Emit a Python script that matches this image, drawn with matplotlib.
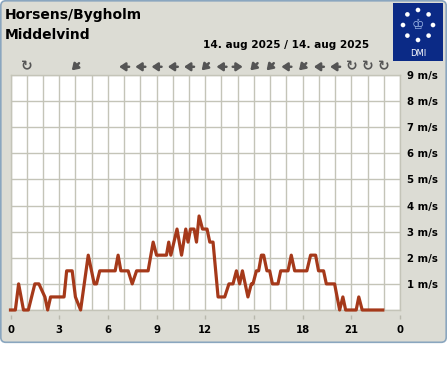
import matplotlib
matplotlib.use("Agg")
import matplotlib.pyplot as plt
from matplotlib.patches import FancyBboxPatch, Rectangle, Circle
from matplotlib.transforms import offset_copy
import numpy as np

# wind speed breakpoints (hour of day, m/s)
hours = [0.0, 0.3, 0.5, 0.8, 1.1, 1.5, 1.75, 2.12, 2.29, 2.47, 3.3, 3.46, 3.8, 4.0,
         4.32, 4.79, 5.16, 5.3, 5.5, 6.45, 6.63, 6.8, 7.25, 7.5, 7.77, 8.48, 8.79,
         9.0, 9.61, 9.75, 9.88, 10.26, 10.54, 10.8, 10.94, 11.09, 11.31, 11.46,
         11.62, 11.83, 12.11, 12.28, 12.48, 12.79, 13.2, 13.46, 13.71, 13.92, 14.12,
         14.29, 14.63, 14.84, 14.94, 15.15, 15.29, 15.46, 15.6, 15.8, 15.97, 16.14,
         16.48, 16.65, 17.1, 17.3, 17.51, 18.26, 18.49, 18.8, 18.98, 19.29, 19.46,
         19.97, 20.28, 20.48, 20.65, 21.3, 21.46, 21.67, 22.94]
speed = [0, 0, 1.0, 0, 0, 1.0, 1.0, 0.5, 0, 0.5, 0.5, 1.5, 1.5, 0.5,
         0, 2.1, 1.0, 1.0, 1.5, 1.5, 2.1, 1.5, 1.5, 1.0, 1.5, 1.5, 2.6,
         2.1, 2.1, 2.6, 2.1, 3.1, 2.1, 3.1, 2.6, 3.1, 3.1, 2.6,
         3.6, 3.1, 3.1, 2.6, 2.6, 0.5, 0.5, 1.0, 1.0, 1.5, 1.0,
         1.5, 0.5, 1.0, 1.0, 1.5, 1.5, 2.1, 2.1, 1.5, 1.5, 1.0,
         1.0, 1.5, 1.5, 2.1, 1.5, 1.5, 2.1, 2.1, 1.5, 1.5, 1.0,
         1.0, 0, 0.5, 0, 0, 0.5, 0, 0]

# wind direction per hour ("calm" = no direction)
dir_hours = [1, 4, 7, 8, 9, 10, 11, 12, 13, 14, 15, 16, 17, 18, 19, 20, 21, 22, 23]
dir_names = ["calm", "SW", "W", "W", "W", "W", "W", "SW", "W", "E", "SW", "SW", "W",
             "SW", "W", "W", "calm", "calm", "calm"]
dir_vec = {"W": (-1, 0), "E": (1, 0), "SW": (-0.72, -0.72)}

x_ticks = [0, 3, 6, 9, 12, 15, 18, 21, 24]
x_labels = ["0", "3", "6", "9", "12", "15", "18", "21", "0"]
y_ticks = [1, 2, 3, 4, 5, 6, 7, 8, 9]
y_labels = [f"{v} m/s" for v in y_ticks]

W, H = 447, 370
fig = plt.figure(figsize=(W / 100, H / 100), dpi=100)
fig.patch.set_facecolor("white")

# overlay in pixel coordinates for the frame, logo and header texts
bg = fig.add_axes([0, 0, 1, 1])
bg.set_xlim(0, W)
bg.set_ylim(H, 0)
bg.axis("off")
bg.add_patch(FancyBboxPatch((0.8, 0.8), W - 1.6, 341.5, boxstyle="round,pad=0,rounding_size=5",
                            fc="#dcdcd4", ec="#8aa6bf", lw=1.2))
bg.add_patch(Rectangle((393, 3), 50, 58, fc="#0b2a86", ec="none"))
for a in np.linspace(0, 2 * np.pi, 9)[:-1]:
    bg.add_patch(Circle((418 + 15 * np.cos(a), 25 + 15 * np.sin(a)), 2.3, fc="white", ec="none"))
bg.text(418, 25, "♔", color="#9fb8e6", fontsize=10, ha="center", va="center")
bg.text(418, 53, "DMI", color="white", fontsize=6, ha="center", va="center")

bg.text(5, 15, "Horsens/Bygholm", fontsize=10, fontweight="bold", ha="left", va="center", color="black")
bg.text(5, 35, "Middelvind", fontsize=10, fontweight="bold", ha="left", va="center", color="black")
bg.text(369, 45, "14. aug 2025 / 14. aug 2025", fontsize=7.6, fontweight="bold",
        ha="right", va="center", color="black")

ax = fig.add_axes([10.5 / W, (H - 310) / H, 389.5 / W, 235 / H])
ax.set_facecolor("white")
ax.set_xlim(0, 24)
ax.set_ylim(0, 9)
ax.vlines(np.arange(0, 25, 1), 0, 9, color="#c4c4b8", lw=1.0, zorder=1)
ax.hlines(np.arange(0, 10, 1), 0, 24, color="#c4c4b8", lw=1.0, zorder=1)
for s in ax.spines.values():
    s.set_color("#c4c4b8")
    s.set_linewidth(1.0)

ax.plot(hours, speed, color="#a5391a", lw=2.3, solid_joinstyle="round", clip_on=False, zorder=3)

ax.set_xticks(x_ticks)
ax.set_xticklabels(x_labels, fontsize=7.3, fontweight="bold")
ax.tick_params(axis="x", which="both", length=0, pad=11)
ax.vlines(x_ticks, -0.021, -0.038, transform=ax.get_xaxis_transform(), color="#b8b8ac",
          lw=1.0, clip_on=False)

ax.yaxis.tick_right()
ax.set_yticks(y_ticks)
ax.set_yticklabels(y_labels, fontsize=7.3, fontweight="bold")
ax.tick_params(axis="y", which="both", length=0, pad=5)

# wind direction row above the plot
arrow_col = "#555555"
for h, name in zip(dir_hours, dir_names):
    if name == "calm":
        ax.text(h, 1.035, "↻", transform=ax.get_xaxis_transform(), ha="center", va="center",
                fontsize=10, fontweight="bold", color=arrow_col)
        continue
    dx, dy = dir_vec[name]
    head = offset_copy(ax.get_xaxis_transform(), fig, x=dx * 3.6, y=dy * 3.6, units="points")
    tail = offset_copy(ax.get_xaxis_transform(), fig, x=-dx * 3.6, y=-dy * 3.6, units="points")
    ax.annotate("", xy=(h, 1.035), xycoords=head, xytext=(h, 1.035), textcoords=tail,
                arrowprops=dict(arrowstyle="-|>,head_length=0.45,head_width=0.3", lw=1.8,
                                color=arrow_col, shrinkA=0, shrinkB=0, mutation_scale=8),
                annotation_clip=False)

fig.savefig("out.png", dpi=100, facecolor=fig.get_facecolor())
